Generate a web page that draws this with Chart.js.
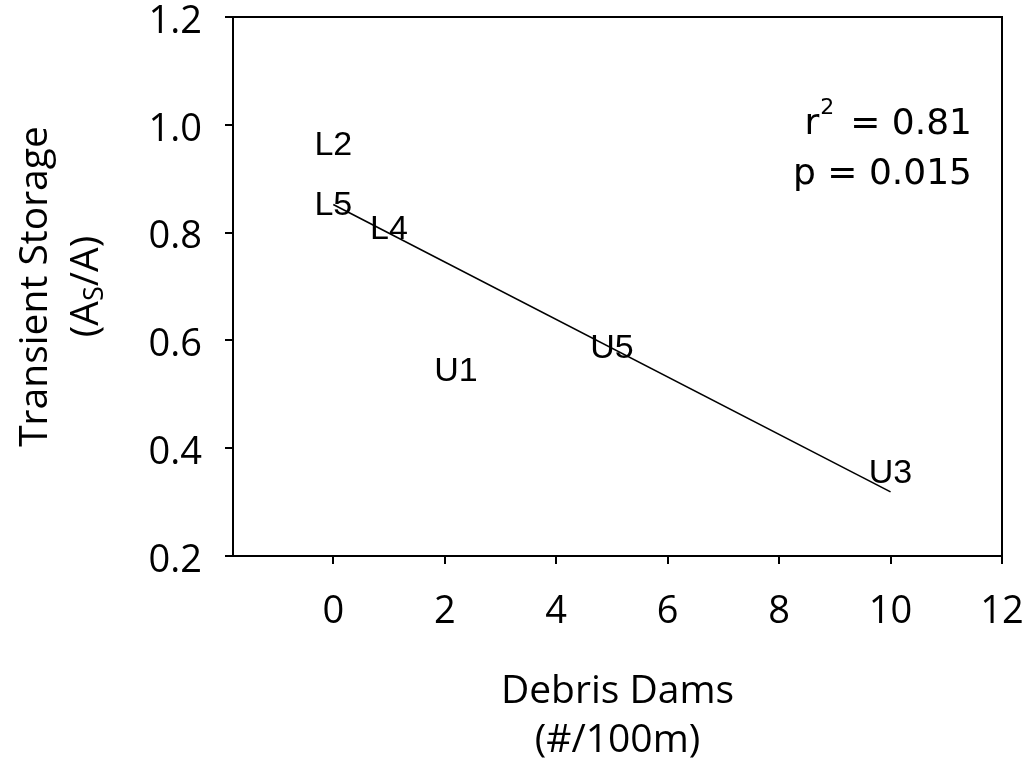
<!DOCTYPE html>
<html>
<head>
<meta charset="utf-8">
<script src="https://cdn.jsdelivr.net/npm/chart.js@4.4.0/dist/chart.umd.min.js"></script>
<style>
  html, body { margin: 0; padding: 0; background: #fff; }
</style>
</head>
<body>
<canvas id="grafico" width="1034" height="767"></canvas>
<script>
// sitios y valores
const sites = ['L2', 'L5', 'L4', 'U1', 'U5', 'U3'];
const debrisDams = [0, 0, 1, 2.2, 5, 10];
const transientStorage = [0.967, 0.855, 0.81, 0.547, 0.59, 0.357];

// extremos de la recta de regresion
const fitX = [0, 10];
const fitY = [0.852, 0.319];

const xTicks = [0, 2, 4, 6, 8, 10, 12];
const yTicks = [0.2, 0.4, 0.6, 0.8, 1.0, 1.2];

const r2Text = '0.81';
const pText = '0.015';

const axisFont = '"Open Sans", sans-serif';

// etiquetas de texto en lugar de marcadores
const siteLabels = {
  id: 'siteLabels',
  afterDatasetsDraw(chart) {
    const ctx = chart.ctx;
    const meta = chart.getDatasetMeta(0);
    ctx.save();
    ctx.font = '34px "Liberation Sans", Arial, sans-serif';
    ctx.fillStyle = '#000';
    ctx.textAlign = 'center';
    ctx.textBaseline = 'alphabetic';
    meta.data.forEach((pt, i) => {
      ctx.fillText(sites[i], pt.x, pt.y + 12);
    });
    ctx.restore();
  }
};

// marco superior/derecho, titulos de ejes y estadisticos
const extras = {
  id: 'extras',
  afterDraw(chart) {
    const ctx = chart.ctx;
    const a = chart.chartArea;
    ctx.save();
    ctx.strokeStyle = '#000';
    ctx.lineWidth = 2;
    ctx.beginPath();
    ctx.moveTo(a.left, a.top);
    ctx.lineTo(a.right, a.top);
    ctx.lineTo(a.right, a.bottom);
    ctx.stroke();

    ctx.fillStyle = '#000';
    // titulo eje x
    const cx = (a.left + a.right) / 2;
    ctx.font = '39px ' + axisFont;
    ctx.textAlign = 'center';
    ctx.textBaseline = 'alphabetic';
    ctx.fillText('Debris Dams', cx, 703);
    ctx.fillText('(#/100m)', cx, 752);

    // titulo eje y (rotado, con subindice)
    const cy = (a.top + a.bottom) / 2;
    ctx.save();
    ctx.translate(47, cy);
    ctx.rotate(-Math.PI / 2);
    ctx.fillText('Transient Storage', 0, 0);
    ctx.restore();

    ctx.save();
    ctx.translate(98, cy);
    ctx.rotate(-Math.PI / 2);
    ctx.textAlign = 'left';
    const big = '39px ' + axisFont;
    const small = '27px ' + axisFont;
    ctx.font = big;
    const w1 = ctx.measureText('(A').width;
    const w3 = ctx.measureText('/A)').width;
    ctx.font = small;
    const w2 = ctx.measureText('S').width;
    let x0 = -(w1 + w2 + w3) / 2;
    ctx.font = big;
    ctx.fillText('(A', x0, 0);
    ctx.font = small;
    ctx.fillText('S', x0 + w1, 5);
    ctx.font = big;
    ctx.fillText('/A)', x0 + w1 + w2, 0);
    ctx.restore();

    // r2 y p
    const rx = a.right - 30;
    ctx.textAlign = 'right';
    ctx.font = '36px "DejaVu Sans", sans-serif';
    const eq = '= ' + r2Text;
    ctx.fillText(eq, rx, 134);
    const weq = ctx.measureText(eq).width;
    ctx.font = '22px "DejaVu Sans", sans-serif';
    ctx.fillText('2', rx - weq - 16, 114);
    const w2r = ctx.measureText('2').width;
    ctx.font = '36px "DejaVu Sans", sans-serif';
    ctx.fillText('r', rx - weq - 16 - w2r - 1, 134);
    ctx.fillText('p = ' + pText, rx, 184);
    ctx.restore();
  }
};

new Chart(document.getElementById('grafico'), {
  type: 'scatter',
  data: {
    datasets: [
      {
        data: debrisDams.map((x, i) => ({ x: x, y: transientStorage[i] })),
        pointRadius: 0,
        pointHoverRadius: 0,
      },
      {
        type: 'line',
        data: fitX.map((x, i) => ({ x: x, y: fitY[i] })),
        borderColor: '#000',
        borderWidth: 1.6,
        pointRadius: 0,
        fill: false,
      },
    ],
  },
  options: {
    responsive: false,
    animation: false,
    devicePixelRatio: 1,
    layout: { padding: { top: 17, right: 32, left: 0, bottom: 0 } },
    plugins: {
      legend: { display: false },
      tooltip: { enabled: false },
    },
    scales: {
      x: {
        type: 'linear',
        min: -1.8,
        max: 12,
        afterBuildTicks: (scale) => { scale.ticks = xTicks.map((v) => ({ value: v })); },
        afterFit: (scale) => {
          scale.height = 211;
          scale.paddingLeft = 0; scale.paddingRight = 0;
        },
        grid: { drawOnChartArea: false, color: '#000', lineWidth: 2, tickLength: 8 },
        border: { display: true, color: '#000', width: 2 },
        ticks: {
          color: '#000',
          font: { family: 'Open Sans', size: 38 },
          padding: 25,
          maxRotation: 0,
          callback: (v) => String(v),
        },
      },
      y: {
        type: 'linear',
        min: 0.2,
        max: 1.2,
        afterBuildTicks: (scale) => { scale.ticks = yTicks.map((v) => ({ value: v })); },
        afterFit: (scale) => {
          scale.width = 233;
          scale.paddingTop = 0; scale.paddingBottom = 0;
        },
        grid: { drawOnChartArea: false, color: '#000', lineWidth: 2, tickLength: 8 },
        border: { display: true, color: '#000', width: 2 },
        ticks: {
          color: '#000',
          font: { family: 'Open Sans', size: 38 },
          padding: 23,
          labelOffset: 5,
          callback: (v) => Number(v).toFixed(1),
        },
      },
    },
  },
  plugins: [siteLabels, extras],
});
</script>
</body>
</html>
